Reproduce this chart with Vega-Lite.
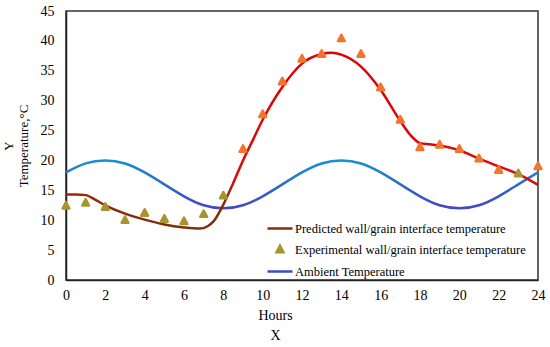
{
  "$schema": "https://vega.github.io/schema/vega-lite/v6.json",
  "width": 472,
  "height": 269,
  "autosize": {"type": "none"},
  "padding": {"left": 66, "top": 11, "right": 12, "bottom": 67},
  "background": "white",
  "config": {
    "view": {"stroke": "#333333", "strokeWidth": 1.5},
    "font": "Liberation Serif",
    "axis": {
      "labelFont": "Liberation Serif",
      "titleFont": "Liberation Serif",
      "labelColor": "#000000",
      "titleColor": "#000000",
      "domainColor": "#222222",
      "domainWidth": 1.5,
      "ticks": false,
      "grid": false,
      "labelFlush": false,
      "titleFontWeight": "normal"
    },
    "legend": {"labelFont": "Liberation Serif"}
  },
  "datasets": {
    "exp": [
      {"hour": 0, "temp": 12.4, "series": "Experimental wall/grain interface temperature"},
      {"hour": 1, "temp": 12.9, "series": "Experimental wall/grain interface temperature"},
      {"hour": 2, "temp": 12.2, "series": "Experimental wall/grain interface temperature"},
      {"hour": 3, "temp": 10.0, "series": "Experimental wall/grain interface temperature"},
      {"hour": 4, "temp": 11.2, "series": "Experimental wall/grain interface temperature"},
      {"hour": 5, "temp": 10.2, "series": "Experimental wall/grain interface temperature"},
      {"hour": 6, "temp": 9.8, "series": "Experimental wall/grain interface temperature"},
      {"hour": 7, "temp": 11.0, "series": "Experimental wall/grain interface temperature"},
      {"hour": 8, "temp": 14.1, "series": "Experimental wall/grain interface temperature"},
      {"hour": 9, "temp": 21.9, "series": "Experimental wall/grain interface temperature"},
      {"hour": 10, "temp": 27.7, "series": "Experimental wall/grain interface temperature"},
      {"hour": 11, "temp": 33.2, "series": "Experimental wall/grain interface temperature"},
      {"hour": 12, "temp": 37.0, "series": "Experimental wall/grain interface temperature"},
      {"hour": 13, "temp": 37.8, "series": "Experimental wall/grain interface temperature"},
      {"hour": 14, "temp": 40.4, "series": "Experimental wall/grain interface temperature"},
      {"hour": 15, "temp": 37.8, "series": "Experimental wall/grain interface temperature"},
      {"hour": 16, "temp": 32.2, "series": "Experimental wall/grain interface temperature"},
      {"hour": 17, "temp": 26.8, "series": "Experimental wall/grain interface temperature"},
      {"hour": 18, "temp": 22.2, "series": "Experimental wall/grain interface temperature"},
      {"hour": 19, "temp": 22.6, "series": "Experimental wall/grain interface temperature"},
      {"hour": 20, "temp": 21.9, "series": "Experimental wall/grain interface temperature"},
      {"hour": 21, "temp": 20.3, "series": "Experimental wall/grain interface temperature"},
      {"hour": 22, "temp": 18.4, "series": "Experimental wall/grain interface temperature"},
      {"hour": 23, "temp": 17.8, "series": "Experimental wall/grain interface temperature"},
      {"hour": 24, "temp": 19.0, "series": "Experimental wall/grain interface temperature"}
    ],
    "pred": [
      {"hour": 0, "temp": 14.3}, {"hour": 0.5, "temp": 14.3}, {"hour": 1, "temp": 14.2},
      {"hour": 1.5, "temp": 13.4}, {"hour": 2, "temp": 12.5}, {"hour": 3, "temp": 11.1},
      {"hour": 4, "temp": 10.1}, {"hour": 5, "temp": 9.3}, {"hour": 6, "temp": 8.8},
      {"hour": 6.8, "temp": 8.6}, {"hour": 7.2, "temp": 9.0}, {"hour": 7.5, "temp": 9.8},
      {"hour": 8, "temp": 12.6}, {"hour": 8.5, "temp": 16.2}, {"hour": 9, "temp": 20.0},
      {"hour": 9.5, "temp": 23.4}, {"hour": 10, "temp": 26.8}, {"hour": 11, "temp": 32.3},
      {"hour": 12, "temp": 36.2}, {"hour": 13, "temp": 37.8}, {"hour": 13.5, "temp": 38.0},
      {"hour": 14, "temp": 37.7}, {"hour": 15, "temp": 35.7}, {"hour": 16, "temp": 31.8},
      {"hour": 17, "temp": 26.6}, {"hour": 17.5, "temp": 24.3}, {"hour": 18, "temp": 22.9},
      {"hour": 18.5, "temp": 22.7}, {"hour": 19, "temp": 22.5}, {"hour": 20, "temp": 21.7},
      {"hour": 21, "temp": 20.3}, {"hour": 22, "temp": 19.0}, {"hour": 23, "temp": 17.7},
      {"hour": 24, "temp": 15.9}
    ],
    "amb": [
      {"hour": 0, "temp": 18}, {"hour": 1, "temp": 19.5}, {"hour": 2, "temp": 20},
      {"hour": 3, "temp": 19.5}, {"hour": 4, "temp": 18}, {"hour": 5, "temp": 16},
      {"hour": 6, "temp": 14}, {"hour": 7, "temp": 12.5}, {"hour": 8, "temp": 12},
      {"hour": 9, "temp": 12.5}, {"hour": 10, "temp": 14}, {"hour": 11, "temp": 16},
      {"hour": 12, "temp": 18}, {"hour": 13, "temp": 19.5}, {"hour": 14, "temp": 20},
      {"hour": 15, "temp": 19.5}, {"hour": 16, "temp": 18}, {"hour": 17, "temp": 16},
      {"hour": 18, "temp": 14}, {"hour": 19, "temp": 12.5}, {"hour": 20, "temp": 12},
      {"hour": 21, "temp": 12.5}, {"hour": 22, "temp": 14}, {"hour": 23, "temp": 16},
      {"hour": 24, "temp": 18}
    ]
  },
  "encoding": {
    "x": {
      "field": "hour", "type": "quantitative",
      "scale": {"domain": [0, 24], "nice": false},
      "axis": {
        "values": [0, 2, 4, 6, 8, 10, 12, 14, 16, 18, 20, 22, 24],
        "labelFont": "Liberation Serif", "titleFont": "Liberation Serif",
        "labelFontSize": 14, "labelPadding": 8, "labelFlush": false,
        "title": ["Hours", "X"], "titleFontSize": 14, "titleLineHeight": 20,
        "titleX": 209, "titleY": 28
      }
    },
    "y": {
      "field": "temp", "type": "quantitative",
      "scale": {"domain": [0, 45], "nice": false},
      "axis": {
        "values": [0, 5, 10, 15, 20, 25, 30, 35, 40, 45],
        "labelFont": "Liberation Serif", "titleFont": "Liberation Serif",
        "labelFontSize": 14, "labelPadding": 12, "labelFlush": false,
        "title": ["Y", "Temperature,°C"], "titleFontSize": 13, "titleLineHeight": 15,
        "titlePadding": 10
      }
    }
  },
  "layer": [
    {
      "data": {"name": "amb"},
      "mark": {
        "type": "line", "interpolate": "natural", "strokeWidth": 2.5,
        "stroke": {
          "gradient": "linear", "x1": 0, "y1": 0, "x2": 0, "y2": 1,
          "stops": [
            {"offset": 0, "color": "#1890D2"},
            {"offset": 0.45, "color": "#2A70CC"},
            {"offset": 1, "color": "#4446C2"}
          ]
        }
      }
    },
    {
      "data": {"name": "pred"},
      "mark": {
        "type": "line", "interpolate": "monotone", "strokeWidth": 2.5,
        "stroke": {
          "gradient": "linear", "x1": 0, "y1": 0, "x2": 0, "y2": 1,
          "stops": [
            {"offset": 0, "color": "#E00000"},
            {"offset": 0.72, "color": "#E00808"},
            {"offset": 0.82, "color": "#8E2A0C"},
            {"offset": 1, "color": "#7E2E10"}
          ]
        }
      }
    },
    {
      "data": {"name": "exp"},
      "mark": {"type": "point", "filled": true, "size": 625, "strokeWidth": 2.5, "opacity": 1, "strokeJoin": "round"},
      "encoding": {
        "fill": {
          "field": "series", "type": "nominal",
          "scale": {
            "domain": ["Predicted wall/grain interface temperature", "Experimental wall/grain interface temperature", "Ambient Temperature"],
            "range": ["#8B2B0E", "#A8942C", "#3B4CC4"]
          },
          "condition": {"test": "datum.temp >= 18", "value": "#F4742E"},
          "legend": {"title": null, "orient": "none", "legendX": 200, "legendY": 203.5, "symbolSize": 625, "symbolStrokeWidth": 2.5, "labelFont": "Liberation Serif", "labelFontSize": 12.5, "labelColor": "#000000", "labelLimit": 0, "rowPadding": -3.5, "labelOffset": 1}
        },
        "stroke": {
          "field": "series", "type": "nominal",
          "scale": {
            "domain": ["Predicted wall/grain interface temperature", "Experimental wall/grain interface temperature", "Ambient Temperature"],
            "range": ["#8B2B0E", "#A8942C", "#3B4CC4"]
          },
          "condition": {"test": "datum.temp >= 18", "value": "#F4742E"},
          "legend": {"title": null, "orient": "none", "legendX": 200, "legendY": 203.5, "symbolSize": 625, "symbolStrokeWidth": 2.5, "labelFont": "Liberation Serif", "labelFontSize": 12.5, "labelColor": "#000000", "labelLimit": 0, "rowPadding": -3.5, "labelOffset": 1}
        },
        "shape": {
          "field": "series", "type": "nominal",
          "scale": {
            "domain": ["Predicted wall/grain interface temperature", "Experimental wall/grain interface temperature", "Ambient Temperature"],
            "range": ["stroke", "M0,-0.3L0.27,0.21L-0.27,0.21Z", "stroke"]
          },
          "legend": {"title": null, "orient": "none", "legendX": 200, "legendY": 203.5, "symbolSize": 625, "symbolStrokeWidth": 2.5, "labelFont": "Liberation Serif", "labelFontSize": 12.5, "labelColor": "#000000", "labelLimit": 0, "rowPadding": -3.5, "labelOffset": 1}
        }
      }
    }
  ]
}
